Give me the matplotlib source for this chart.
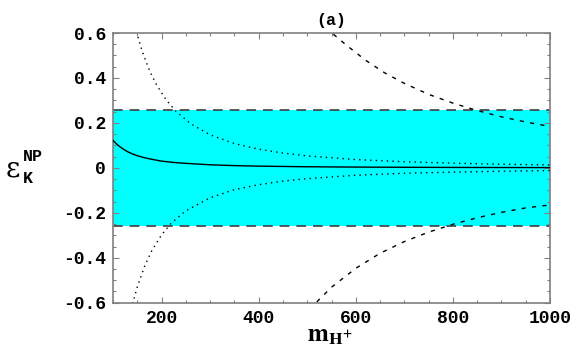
import matplotlib
matplotlib.use("Agg")
import matplotlib.pyplot as plt
from matplotlib.ticker import MultipleLocator

# values
band = 0.258

solid_x = [100, 110, 120, 130, 140, 150, 165, 180, 200, 225, 250, 300, 350, 400, 500, 600, 700, 800, 900, 1000]
solid_y = [0.122, 0.101, 0.085, 0.072, 0.062, 0.054, 0.045, 0.038, 0.030, 0.024, 0.020, 0.0136, 0.010, 0.0076,
           0.0049, 0.0034, 0.0025, 0.0019, 0.0015, 0.0012]

dot_up_x = [145, 149, 160, 175, 190, 210, 230, 260, 300, 350, 400, 450, 500, 600, 700, 800, 900, 1000]
dot_up_y = [0.63, 0.60, 0.52, 0.433, 0.368, 0.301, 0.251, 0.196, 0.147, 0.108, 0.083, 0.066, 0.053, 0.037,
            0.027, 0.021, 0.016, 0.013]

dot_lo_x = [138, 141, 150, 165, 180, 200, 220, 250, 300, 350, 400, 450, 500, 600, 700, 800, 900, 1000]
dot_lo_y = [-0.63, -0.60, -0.53, -0.438, -0.368, -0.298, -0.246, -0.191, -0.133, -0.097, -0.075, -0.059,
            -0.048, -0.033, -0.024, -0.019, -0.015, -0.012]

dash_up_x = [540, 551, 580, 620, 660, 700, 750, 800, 850, 900, 950, 1000]
dash_up_y = [0.63, 0.60, 0.547, 0.479, 0.422, 0.376, 0.327, 0.288, 0.255, 0.227, 0.204, 0.184]

dash_lo_x = [505, 518, 550, 600, 650, 700, 750, 800, 850, 900, 950, 1000]
dash_lo_y = [-0.63, -0.60, -0.531, -0.447, -0.380, -0.328, -0.286, -0.251, -0.222, -0.198, -0.178, -0.165]

xticks = [200, 400, 600, 800, 1000]
yticks = [-0.6, -0.4, -0.2, 0, 0.2, 0.4, 0.6]
ytick_labels = ['-0.6', '-0.4', '-0.2', '0', '0.2', '0.4', '0.6']

plt.rcParams['lines.scale_dashes'] = False
plt.rcParams['mathtext.fontset'] = 'stix'

fig = plt.figure(figsize=(5.76, 3.56), dpi=100)
ax = fig.add_axes([0.1962, 0.1497, 0.7587, 0.7576])

ax.axhspan(-band, band, color='#00ffff', lw=0, zorder=1)
for yb in (band, -band):
    ax.axhline(yb, color='#404040', lw=1.2, dashes=(7, 5), zorder=2)

ax.plot(solid_x, solid_y, color='black', lw=1.0, zorder=3)
ax.plot(dot_up_x, dot_up_y, color='black', lw=1.0, dashes=(1, 3), zorder=3)
ax.plot(dot_lo_x, dot_lo_y, color='black', lw=1.0, dashes=(1, 3), zorder=3)
ax.plot(dash_up_x, dash_up_y, color='black', lw=1.0, dashes=(3, 4.5), zorder=3)
ax.plot(dash_lo_x, dash_lo_y, color='black', lw=1.0, dashes=(3, 4.5), zorder=3)

ax.set_xlim(100, 1000)
ax.set_ylim(-0.6, 0.6)
ax.set_xticks(xticks)
ax.set_yticks(yticks)
ax.set_yticklabels(ytick_labels)
ax.xaxis.set_minor_locator(MultipleLocator(50))
ax.yaxis.set_minor_locator(MultipleLocator(0.05))
ax.tick_params(which='both', direction='in', top=True, right=True, color='#808080', width=0.8)
ax.tick_params(which='major', length=4, pad=5)
ax.tick_params(which='minor', length=2)
for s in ax.spines.values():
    s.set_color('#808080')
    s.set_linewidth(1.2)

tick_font = dict(family='Liberation Mono', weight='bold', size=13)
for lab in ax.get_xticklabels() + ax.get_yticklabels():
    lab.set_fontproperties(matplotlib.font_manager.FontProperties(**tick_font))

fig.text(0.575, 1 - 25 / 356, '(a)', family='Liberation Mono', weight='bold', size=12,
         ha='center', va='baseline')

# y label: epsilon with NP superscript and K subscript
fig.text(6 / 576, 1 - 177 / 356, '\u03b5', family='DejaVu Serif', fontsize=20, ha='left', va='baseline')
fig.text(23 / 576, 1 - 161 / 356, 'NP', family='Liberation Mono', weight='bold', size=12,
         ha='left', va='baseline')
fig.text(23 / 576, 1 - 183 / 356, 'K', family='Liberation Mono', weight='bold', size=12,
         ha='left', va='baseline')

# x label
fig.text(0.573, 1 - 342 / 356, r'$\mathbf{m}_{\mathbf{H^{+}}}$', fontsize=18, ha='center', va='baseline')

fig.savefig('out.png', dpi=100)
